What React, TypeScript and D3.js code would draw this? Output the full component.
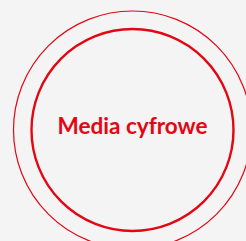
import React from "react";
import * as d3 from "d3";

const labels = ["Media cyfrowe"];
const ringRadii = [101, 119];
const ringWidths = [2.4, 1.2];

export default function App() {
  const W = 246, H = 241;
  const cx = 132.5, cy = 130;
  const rScale = d3.scaleLinear().domain([0, 1]).range([0, 1]);
  return (
    <svg width={W} height={H} style={{ position: "absolute", left: 0, top: 0, background: "#f4f4f4" }}>
      <rect width={W} height={H} fill="#f4f4f4" />
      {ringRadii.map((r, i) => (
        <circle key={i} cx={cx} cy={cy} r={rScale(r)} fill="none" stroke="#e30613" strokeWidth={ringWidths[i]} />
      ))}
      {labels.map((t, i) => (
        <text key={i} x={cx} y={134} textAnchor="middle" fill="#e30613"
          textLength={150} lengthAdjust="spacingAndGlyphs"
          style={{ fontFamily: "Lato, sans-serif", fontWeight: 700, fontSize: 23 }}>{t}</text>
      ))}
    </svg>
  );
}
